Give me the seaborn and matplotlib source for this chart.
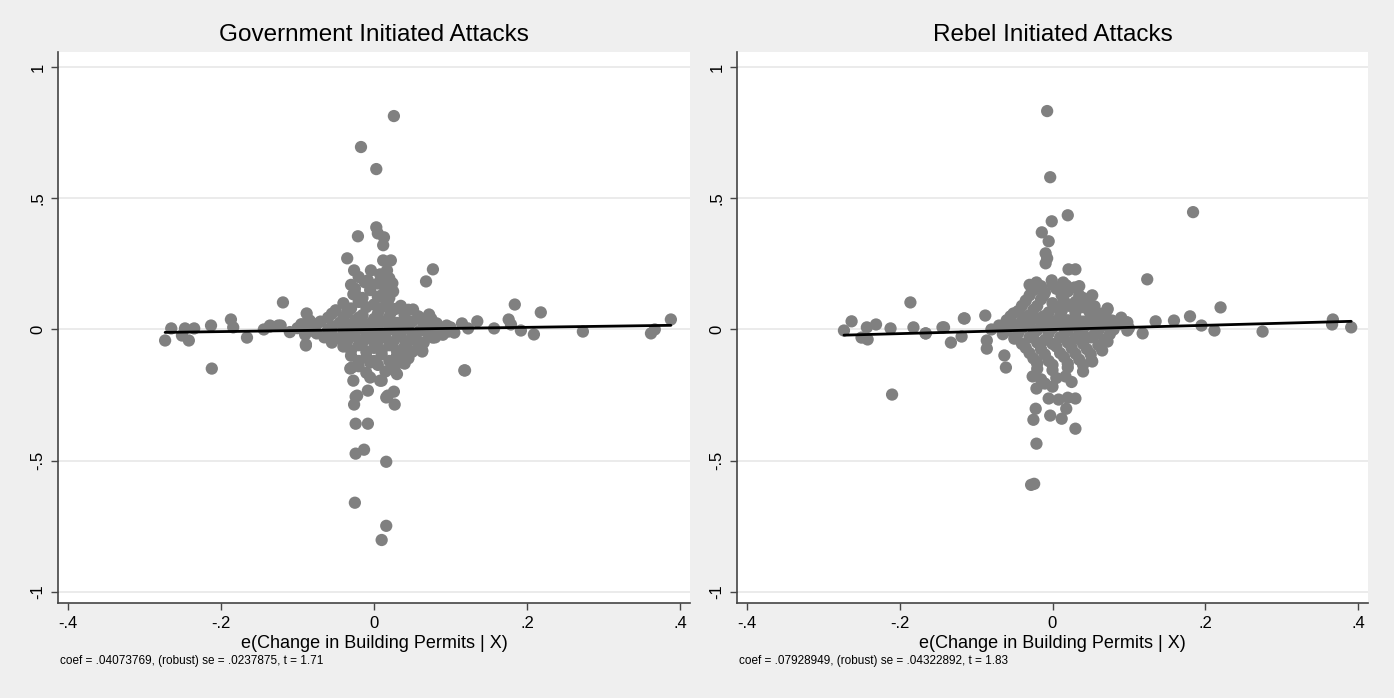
import numpy as np
import pandas as pd
import matplotlib
matplotlib.use("Agg")
import matplotlib.pyplot as plt
import seaborn as sns

# ---- data ----
TITLES = ["Government Initiated Attacks", "Rebel Initiated Attacks"]
XLABEL = "e(Change in Building Permits | X)"
NOTES = [
    "coef = .04073769, (robust) se = .0237875, t = 1.71",
    "coef = .07928949, (robust) se = .04322892, t = 1.83",
]
COEFS = [0.04073769, 0.07928949]
XTICKS = [-0.4, -0.2, 0, 0.2, 0.4]
XTICKLABELS = ["-.4", "-.2", "0", ".2", ".4"]
YTICKS = [-1, -0.5, 0, 0.5, 1]
YTICKLABELS = ["-1", "-.5", "0", ".5", "1"]

# government initiated: residual of permits change (x) vs residual of attacks (y)
gov_x = [
    # tails / outliers
    0.026, -0.017, 0.003, 0.003, -0.021, 0.005, 0.013, 0.012, -0.035, -0.026,
    0.012, 0.022, 0.017, -0.004, -0.008, 0.077, 0.068, 0.010, 0.024, -0.025,
    -0.027, -0.119, 0.014, -0.050, -0.088, -0.084, 0.051, 0.072, 0.082, 0.115,
    0.135, -0.089, -0.122, -0.136,
    # left wing
    -0.273, -0.265, -0.251, -0.247, -0.242, -0.235, -0.213, -0.212, -0.187, -0.184,
    -0.166, -0.144, -0.136, -0.125,
    # right wing
    0.072, 0.063, 0.077, 0.097, 0.123, 0.118, 0.157, 0.176, 0.184, 0.179,
    0.192, 0.209, 0.218, 0.273, 0.362, 0.367, 0.388,
    # lower tail
    -0.024, -0.026, -0.024, -0.008, -0.024, -0.013, 0.016, -0.025, 0.016, 0.010,
    0.016, 0.026, 0.027, 0.010, -0.005, -0.008, -0.027, -0.031, 0.119, 0.063,
    -0.089, 0.043, 0.027, -0.086, 0.080, -0.029, -0.022, 0.018, 0.008, -0.005,
    # dense core
    -0.025, -0.005, 0.012, 0.025,
    -0.040, -0.020, 0.000, 0.018, 0.035,
    -0.055, -0.035, -0.015, 0.005, 0.022, 0.040, 0.058,
    -0.070, -0.045, -0.025, -0.008, 0.012, 0.030, 0.050, 0.065,
    -0.100, -0.080, -0.060, -0.040, -0.020, 0.000, 0.020, 0.040, 0.060, 0.085, 0.100,
    -0.065, -0.045, -0.025, -0.005, 0.015, 0.035, 0.055, 0.075,
    -0.040, -0.020, 0.000, 0.020, 0.040, 0.058,
    -0.030, -0.010, 0.010, 0.030, 0.045,
    -0.020, 0.005, 0.025, 0.040,
    -0.090, -0.110, -0.075, 0.090, 0.105, -0.095,
]
gov_y = [
    0.813, 0.695, 0.611, 0.389, 0.355, 0.366, 0.351, 0.321, 0.271, 0.225,
    0.263, 0.263, 0.225, 0.225, 0.187, 0.229, 0.183, 0.179, 0.176, 0.156,
    0.134, 0.103, 0.118, 0.073, 0.061, 0.034, 0.076, 0.053, 0.023, 0.023,
    0.031, -0.061, 0.015, 0.015,
    -0.042, 0.004, -0.023, 0.004, -0.042, 0.004, 0.015, -0.149, 0.038, 0.008,
    -0.031, 0.000, 0.011, 0.015,
    0.057, -0.080, -0.031, -0.008, 0.004, -0.156, 0.004, 0.038, 0.095, 0.019,
    -0.004, -0.019, 0.065, -0.008, -0.015, 0.000, 0.038,
    -0.256, -0.286, -0.359, -0.359, -0.473, -0.458, -0.504, -0.660, -0.748, -0.802,
    -0.259, -0.237, -0.286, -0.195, -0.183, -0.233, -0.195, -0.149, -0.156, -0.084,
    -0.057, -0.092, -0.156, 0.034, -0.030, -0.145, -0.252, -0.252, -0.195, -0.126,
    0.140, 0.150, 0.135, 0.145,
    0.100, 0.105, 0.095, 0.100, 0.090,
    0.060, 0.065, 0.055, 0.060, 0.065, 0.055, 0.050,
    0.030, 0.025, 0.035, 0.020, 0.030, 0.025, 0.030, 0.020,
    0.005, -0.005, 0.000, -0.005, 0.005, -0.005, 0.000, 0.005, -0.005, 0.000, 0.008,
    -0.030, -0.035, -0.025, -0.035, -0.030, -0.028, -0.035, -0.025,
    -0.065, -0.060, -0.070, -0.060, -0.065, -0.055,
    -0.100, -0.105, -0.095, -0.100, -0.110,
    -0.140, -0.135, -0.145, -0.130,
    -0.020, -0.010, 0.020, -0.020, -0.012, 0.020,
]
# extra points filling the dense centre of the government panel
gov_core_x = [
    -0.030, -0.012, 0.005, 0.020, 0.015, -0.020, 0.008,
    -0.015, 0.005, 0.020,
    -0.030, -0.010, 0.008, 0.028, 0.045,
    -0.060, -0.040, -0.020, 0.000, 0.020, 0.040, 0.058, 0.075,
    -0.085, -0.055, -0.035, -0.015, 0.005, 0.025, 0.045, 0.070, 0.095,
    -0.075, -0.055, -0.030, -0.010, 0.010, 0.030, 0.050, 0.070,
    -0.055, -0.035, -0.015, 0.005, 0.025, 0.045, 0.065,
    -0.030, -0.010, 0.010, 0.030, 0.050,
    -0.020, 0.000, 0.020, 0.035,
    -0.010, 0.015, 0.030,
]
gov_core_y = [
    0.170, 0.180, 0.175, 0.195, 0.160, 0.200, 0.210,
    0.120, 0.125, 0.120,
    0.080, 0.085, 0.080, 0.078, 0.075,
    0.045, 0.045, 0.045, 0.040, 0.048, 0.040, 0.042, 0.040,
    0.015, 0.012, 0.015, 0.010, 0.015, 0.012, 0.018, 0.010, 0.015,
    -0.015, -0.018, -0.012, -0.018, -0.015, -0.012, -0.018, -0.012,
    -0.050, -0.045, -0.050, -0.045, -0.048, -0.045, -0.050,
    -0.080, -0.085, -0.080, -0.082, -0.085,
    -0.120, -0.120, -0.120, -0.125,
    -0.165, -0.160, -0.170,
]

# rebel initiated
reb_x = [
    # upper tail
    -0.007, -0.003, 0.020, -0.001, -0.014, -0.005, -0.009, -0.007, -0.009, 0.021,
    0.030, 0.124, -0.021, -0.001, 0.014, -0.027, 0.029, -0.115, -0.088, -0.051,
    0.072, -0.144, -0.166, -0.133, -0.119, -0.086, -0.086, -0.063, -0.061, 0.098,
    0.135, 0.159, 0.118, 0.065, 0.051, 0.078,
    # left wing
    -0.273, -0.263, -0.243, -0.231, -0.250, -0.242, -0.212, -0.186, -0.182, -0.210,
    -0.166, -0.142, -0.116,
    # right wing
    0.184, 0.072, 0.097, 0.098, 0.180, 0.195, 0.212, 0.220, 0.275, 0.367,
    0.366, 0.391, 0.070, 0.044,
    # lower tail
    -0.024, -0.028, -0.021, 0.030, -0.025, -0.003, 0.012, -0.022, 0.018, -0.005,
    0.008, 0.020, 0.030, -0.021, -0.010, 0.000, -0.026, 0.017, -0.021, 0.052,
    0.072,
    # dense core
    -0.025, -0.010, 0.005, 0.020, 0.035,
    -0.035, -0.015, 0.000, 0.015, 0.030, 0.045,
    -0.045, -0.025, -0.005, 0.012, 0.030, 0.048, 0.062,
    -0.060, -0.040, -0.020, 0.000, 0.020, 0.040, 0.058, 0.078,
    -0.080, -0.060, -0.040, -0.020, 0.000, 0.020, 0.040, 0.060, 0.080, 0.100,
    -0.050, -0.030, -0.010, 0.010, 0.030, 0.050, 0.068,
    -0.035, -0.015, 0.005, 0.025, 0.045,
    -0.025, -0.005, 0.015, 0.035,
    -0.020, 0.000, 0.020, 0.040,
]
reb_y = [
    0.832, 0.580, 0.435, 0.412, 0.370, 0.336, 0.290, 0.271, 0.252, 0.229,
    0.229, 0.191, 0.179, 0.187, 0.179, 0.153, 0.160, 0.042, 0.053, 0.061,
    0.076, 0.008, -0.015, -0.050, -0.027, -0.042, -0.073, -0.099, -0.145, 0.027,
    0.031, 0.034, -0.015, -0.080, -0.118, 0.034,
    -0.004, 0.031, 0.008, 0.019, -0.031, -0.038, 0.004, 0.103, 0.008, -0.248,
    -0.015, 0.008, 0.042,
    0.447, 0.080, 0.027, -0.004, 0.050, 0.015, -0.004, 0.084, -0.008, 0.038,
    0.019, 0.008, -0.042, -0.031,
    -0.588, -0.592, -0.435, -0.378, -0.344, -0.328, -0.340, -0.302, -0.302, -0.263,
    -0.267, -0.260, -0.263, -0.225, -0.206, -0.218, -0.179, -0.179, -0.122, -0.122,
    -0.046,
    0.150, 0.140, 0.155, 0.145, 0.130,
    0.110, 0.115, 0.100, 0.110, 0.105, 0.100,
    0.070, 0.075, 0.065, 0.070, 0.065, 0.070, 0.060,
    0.035, 0.030, 0.040, 0.030, 0.035, 0.030, 0.035, 0.030,
    0.000, -0.005, 0.005, -0.003, 0.005, -0.005, 0.002, -0.005, 0.000, 0.005,
    -0.035, -0.030, -0.040, -0.030, -0.035, -0.030, -0.040,
    -0.070, -0.075, -0.065, -0.070, -0.075,
    -0.110, -0.120, -0.105, -0.115,
    -0.150, -0.155, -0.145, -0.160,
]
# extra points filling the dense centre of the rebel panel
reb_core_x = [
    -0.030, -0.015, 0.000, 0.018, 0.035,
    -0.030, -0.012, 0.012, 0.040, 0.052,
    -0.040, -0.020, 0.005, 0.022, 0.040, 0.055,
    -0.055, -0.032, -0.012, 0.010, 0.030, 0.050, 0.070, 0.090,
    -0.070, -0.050, -0.030, -0.010, 0.010, 0.030, 0.050, 0.070, 0.090,
    -0.065, -0.045, -0.025, -0.005, 0.015, 0.035, 0.055, 0.075,
    -0.040, -0.020, 0.000, 0.020, 0.040, 0.060,
    -0.030, -0.010, 0.010, 0.030, 0.050,
    -0.020, 0.000, 0.020, 0.040,
    -0.015, 0.005, 0.025,
]
reb_core_y = [
    0.170, 0.165, 0.170, 0.168, 0.165,
    0.130, 0.128, 0.130, 0.120, 0.130,
    0.090, 0.090, 0.085, 0.090, 0.085, 0.088,
    0.050, 0.052, 0.050, 0.052, 0.048, 0.050, 0.048, 0.045,
    0.015, 0.018, 0.015, 0.015, 0.018, 0.015, 0.018, 0.015, 0.020,
    -0.018, -0.015, -0.020, -0.015, -0.020, -0.015, -0.020, -0.018,
    -0.055, -0.050, -0.055, -0.050, -0.055, -0.060,
    -0.090, -0.095, -0.090, -0.092, -0.095,
    -0.130, -0.135, -0.130, -0.135,
    -0.190, -0.185, -0.200,
]

BG = "#efefef"
DOT = "#808080"

sns.set_theme(style="white")
plt.rcParams["font.family"] = ["Liberation Sans", "DejaVu Sans"]
plt.rcParams["text.color"] = "black"

fig = plt.figure(figsize=(13.94, 6.98), dpi=100, facecolor=BG)
positions = [
    [58 / 1394, 95 / 698, 632 / 1394, 551 / 698],
    [737 / 1394, 95 / 698, 631 / 1394, 551 / 698],
]
panels = [
    (gov_x + gov_core_x, gov_y + gov_core_y),
    (reb_x + reb_core_x, reb_y + reb_core_y),
]

for i, (xs, ys) in enumerate(panels):
    ax = fig.add_axes(positions[i])
    ax.set_facecolor("white")
    df = pd.DataFrame({"x": xs, "y": ys})

    for yv in YTICKS:
        ax.axhline(yv, color="#e8e8e8", lw=1.2, zorder=0)

    sns.scatterplot(data=df, x="x", y="y", color=DOT, s=78, edgecolor="none",
                    linewidth=0, ax=ax, zorder=2)

    # fitted line of the added-variable plot (through origin, slope = coef)
    line = pd.DataFrame({"x": [df["x"].min(), df["x"].max()]})
    line["y"] = COEFS[i] * line["x"]
    sns.lineplot(data=line, x="x", y="y", color="black", lw=2, ax=ax, zorder=3)

    ax.set_xlim(-0.413, 0.413)
    ax.set_ylim(-1.042, 1.057)
    ax.set_xticks(XTICKS)
    ax.set_xticklabels(XTICKLABELS, fontsize=12)
    ax.set_yticks(YTICKS)
    ax.set_yticklabels(YTICKLABELS, fontsize=12, rotation=90, va="center")
    ax.tick_params(axis="both", direction="out", length=5, width=1,
                   color="#444444", labelcolor="black", pad=4, bottom=True, left=True)
    for side in ["top", "right"]:
        ax.spines[side].set_visible(False)
    for side in ["left", "bottom"]:
        ax.spines[side].set_color("#444444")
        ax.spines[side].set_linewidth(1.2)

    ax.set_title(TITLES[i], fontsize=17.5, pad=8, color="black")
    ax.set_xlabel(XLABEL, fontsize=13, labelpad=3, color="black")
    ax.set_ylabel("")
    ax.text(0.003, -0.105, NOTES[i], transform=ax.transAxes, fontsize=8.5,
            ha="left", va="center", color="black")

fig.savefig("out.png", dpi=100, facecolor=BG)
